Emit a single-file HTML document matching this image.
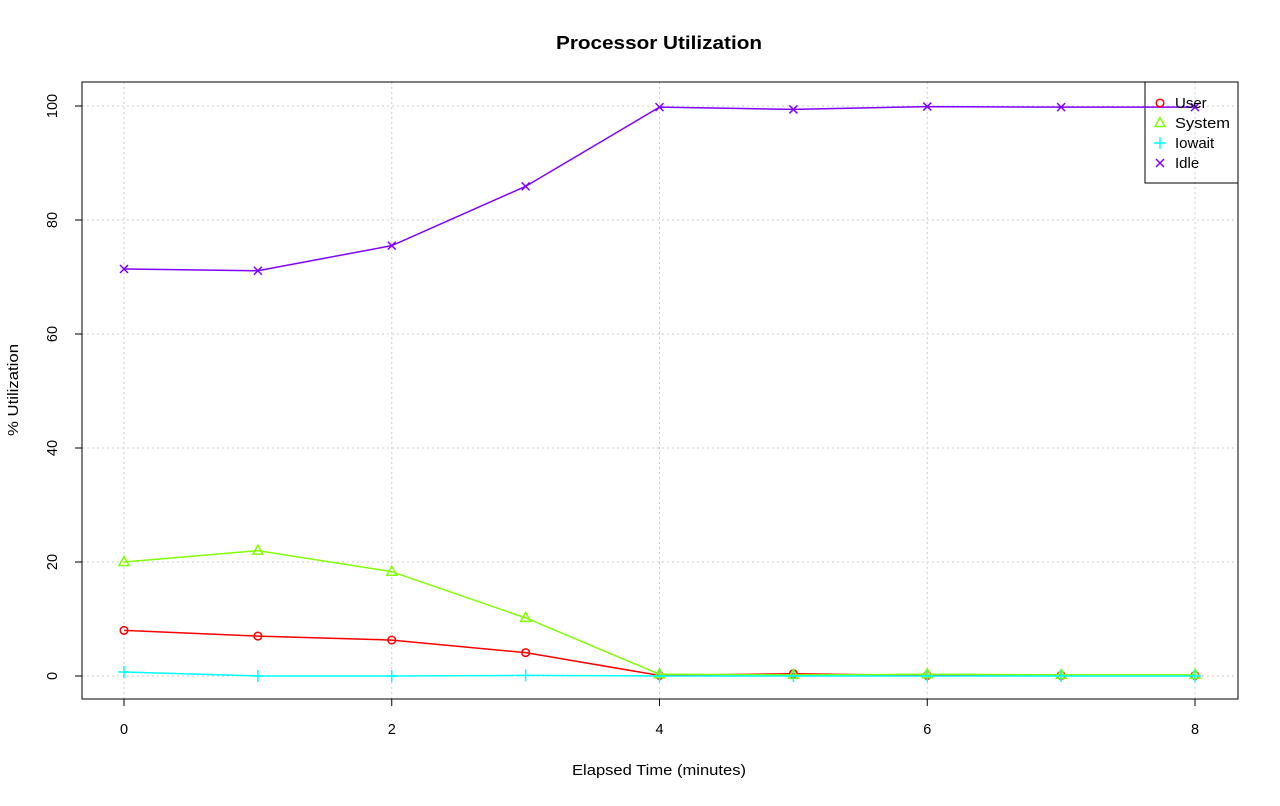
<!DOCTYPE html>
<html><head><meta charset="utf-8"><style>
body{margin:0;background:#fff}
svg, svg text{font-family:"Liberation Sans",Arial,sans-serif}
</style></head><body>
<svg id="chart" width="1280" height="801" font-family="Liberation Sans, Arial, sans-serif">
<text x="659" y="49" text-anchor="middle" font-family="Liberation Sans, sans-serif" font-size="18.5" font-weight="bold" textLength="206" lengthAdjust="spacingAndGlyphs">Processor Utilization</text>
<g id="grid"></g>
<g id="axes"></g>
<rect x="1145" y="82" width="93" height="101" fill="none" stroke="#000"/>
<g id="series"></g>
<rect x="82" y="82" width="1156" height="617" fill="none" stroke="#000"/>
<text x="659" y="775" text-anchor="middle" font-family="Liberation Sans, sans-serif" font-size="15" textLength="174" lengthAdjust="spacingAndGlyphs">Elapsed Time (minutes)</text>
<text transform="translate(18,390) rotate(-90)" text-anchor="middle" font-family="Liberation Sans, sans-serif" font-size="15" textLength="92" lengthAdjust="spacingAndGlyphs">% Utilization</text>
<g id="legend"></g>
</svg>
<script>
const times=[0,1,2,3,4,5,6,7,8];
const userVals=[8.0,7.0,6.3,4.1,0.1,0.4,0.1,0.1,0.1];
const systemVals=[20.0,22.0,18.3,10.2,0.3,0.2,0.3,0.2,0.2];
const iowaitVals=[0.7,0.0,0.0,0.1,0.0,0.0,0.0,0.0,0.0];
const idleVals=[71.4,71.1,75.5,85.9,99.8,99.4,99.9,99.8,99.8];
const xTicks=[0,2,4,6,8];
const yTicks=[0,20,40,60,80,100];
const seriesNames=["User","System","Iowait","Idle"];

const NS="http://www.w3.org/2000/svg";
const FF="Liberation Sans, sans-serif";
const xs=v=>124+v*(1195-124)/8;
const ys=v=>676-v*5.7;
function mk(tag,attrs,parent){const e=document.createElementNS(NS,tag);for(const k in attrs)e.setAttribute(k,attrs[k]);parent.appendChild(e);return e;}
const grid=document.getElementById('grid'),axes=document.getElementById('axes'),ser=document.getElementById('series'),leg=document.getElementById('legend');
xTicks.forEach(t=>{
  const l=mk('line',{x1:xs(t),x2:xs(t),y1:82,y2:699,stroke:'#ccc','stroke-dasharray':'2,3'},grid);
  
  const tk=mk('line',{x1:xs(t),x2:xs(t),y1:699,y2:706,stroke:'#000'},axes);
  
  const tx=mk('text',{x:xs(t),y:734,'text-anchor':'middle','font-size':14.5,'font-family':FF},axes);tx.textContent=t;
  
});
yTicks.forEach(t=>{
  const l=mk('line',{x1:82,x2:1238,y1:ys(t),y2:ys(t),stroke:'#ccc','stroke-dasharray':'2,3'},grid);
  
  const tk=mk('line',{x1:75,x2:82,y1:ys(t),y2:ys(t),stroke:'#000'},axes);
  
  const tx=mk('text',{transform:`translate(57,${ys(t)}) rotate(-90)`,'text-anchor':'middle','font-size':14.5,'font-family':FF},axes);tx.textContent=t;
  
});
const colors=['#ff0000','#80ff00','#00ffff','#8000ff'];
function marker(type,x,y,c,p){
  let e;
  if(type===0)e=mk('circle',{cx:x,cy:y,r:3.8,fill:'none',stroke:c,'stroke-width':1.5},p);
  else if(type===1)e=mk('path',{d:`M${x},${y-5.5}L${x+5},${y+3.5}L${x-5},${y+3.5}Z`,fill:'none',stroke:c,'stroke-width':1.5},p);
  else if(type===2)e=mk('path',{d:`M${x-6},${y}H${x+6}M${x},${y-6}V${y+6}`,stroke:c,'stroke-width':1.5},p);
  else e=mk('path',{d:`M${x-4},${y-4}L${x+4},${y+4}M${x-4},${y+4}L${x+4},${y-4}`,stroke:c,'stroke-width':1.5},p);
  return e;
}
[userVals,systemVals,iowaitVals,idleVals].forEach((vals,i)=>{
  const pl=mk('polyline',{points:vals.map((v,j)=>xs(times[j])+','+ys(v)).join(' '),fill:'none',stroke:colors[i],'stroke-width':1.5},ser);
  
  vals.forEach((v,j)=>{const m=marker(i,xs(times[j]),ys(v),colors[i],ser);
    });
});
seriesNames.forEach((n,i)=>{
  const y=103+i*20;
  const m=marker(i,1160,y,colors[i],leg);
  
  const t=mk('text',{x:1175,y:y+5,'font-size':15,'font-family':FF},leg);t.textContent=n;
  if(n==='System'){t.setAttribute('textLength','55');t.setAttribute('lengthAdjust','spacingAndGlyphs');}
  
});
</script>
</body></html>
